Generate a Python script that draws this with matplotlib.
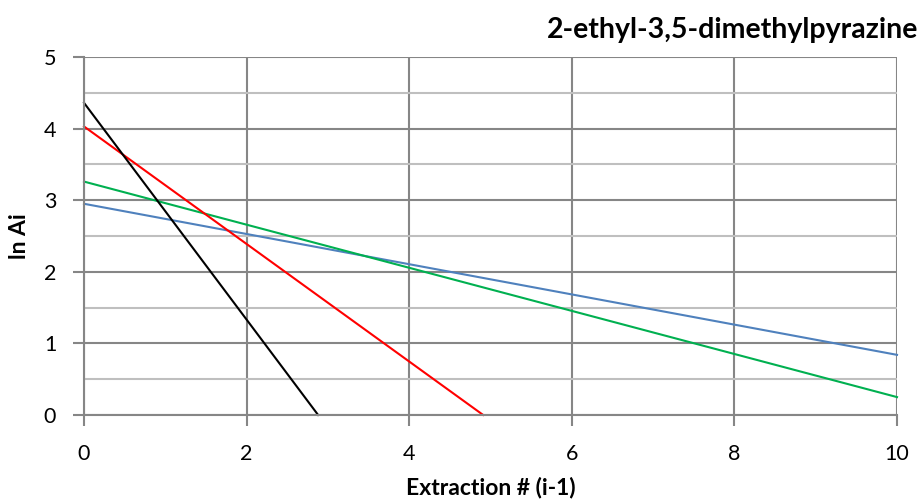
import numpy as np
import matplotlib.pyplot as plt

plt.rcParams['font.family'] = ['Lato', 'DejaVu Sans']

# trendline endpoints: (x values, ln Ai values)
black_x = [0, 2.88]
black_y = [4.36, 0.0]
red_x = [0, 4.91]
red_y = [4.03, 0.0]
green_x = [0, 10]
green_y = [3.26, 0.25]
blue_x = [0, 10]
blue_y = [2.95, 0.84]

x_ticks = [0, 2, 4, 6, 8, 10]
y_ticks = [0, 1, 2, 3, 4, 5]

fig = plt.figure(figsize=(9.22, 5.04), dpi=100, facecolor='w')
ax = fig.add_axes([0.0911, 0.1766, 0.8818, 0.7103])

ax.set_xlim(0, 10)
ax.set_ylim(0, 5)
ax.set_xticks(x_ticks)
ax.set_yticks(y_ticks)
ax.set_yticks(np.arange(0.5, 5, 1.0), minor=True)
ax.tick_params(axis='y', which='minor', length=0)
ax.tick_params(which='major', length=8, width=1.5, color='#868686',
               labelsize=15.5, colors='#868686', labelcolor='black')
ax.tick_params(axis='x', pad=13)
ax.tick_params(axis='y', pad=12)

ax.grid(which='major', color='#868686', lw=1.5)
ax.grid(which='minor', axis='y', color='#bfbfbf', lw=1.5)
ax.set_axisbelow(True)
for s in ('top', 'right'):
    ax.spines[s].set_visible(False)
for s in ('left', 'bottom'):
    ax.spines[s].set_color('#868686')
    ax.spines[s].set_linewidth(1.5)

ax.plot(blue_x, blue_y, color='#4f81bd', lw=1.5, clip_on=False)
ax.plot(green_x, green_y, color='#00b050', lw=1.5, clip_on=False)
ax.plot(red_x, red_y, color='#ff0000', lw=1.5, clip_on=False)
ax.plot(black_x, black_y, color='black', lw=1.5, clip_on=False)

ax.set_xlabel('Extraction # (i-1)', fontsize=16.5, fontweight='bold', labelpad=9)
ax.set_ylabel('ln Ai', fontsize=16.5, fontweight='bold', labelpad=10)
fig.text(0.996, 0.925, '2-ethyl-3,5-dimethylpyrazine', ha='right', va='baseline',
         fontsize=20.5, fontweight='bold')

fig.savefig('out.png', dpi=100)
